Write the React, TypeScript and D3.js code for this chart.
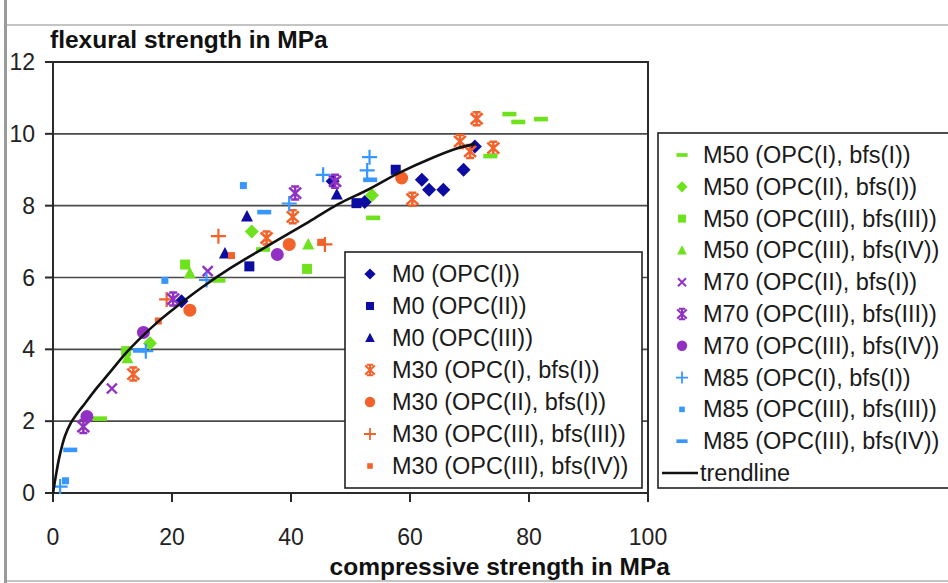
import React from 'react';
import * as d3 from 'd3';

// chart values: [compressive, flexural] in MPa
const M0_OPC1 = [[21.6, 5.34], [47.0, 8.68], [52.4, 8.1], [62.0, 8.72], [63.2, 8.44], [65.6, 8.44], [69.0, 9.0], [70.9, 9.65]];
const M0_OPC2 = [[33.0, 6.31], [51.0, 8.07], [57.6, 9.0]];
const M0_OPC3 = [[28.9, 6.67], [32.6, 7.7], [47.7, 8.31]];
const M30_1 = [[13.5, 3.31], [35.9, 7.1], [40.3, 7.69], [60.4, 8.18], [68.4, 9.79], [70.1, 9.51], [71.2, 10.42], [74.0, 9.6]];
const M30_2 = [[23.0, 5.09], [39.7, 6.92], [58.6, 8.77]];
const M30_3 = [[19.1, 5.39], [27.8, 7.15], [45.7, 6.92]];
const M30_4 = [[17.7, 4.79], [30.0, 6.61], [45.0, 6.98]];
const M50_1 = [[7.9, 2.07], [27.8, 5.92], [35.3, 6.78], [53.8, 7.66], [73.5, 9.38], [76.7, 10.55], [78.2, 10.33], [82.0, 10.41]];
const M50_2 = [[16.3, 4.17], [33.4, 7.28], [53.6, 8.29]];
const M50_3 = [[12.3, 3.95], [22.2, 6.36], [42.7, 6.24]];
const M50_4 = [[12.5, 3.75], [23.0, 6.12], [42.9, 6.92]];
const M70_1 = [[9.9, 2.91], [26.0, 6.18]];
const M70_2 = [[5.1, 1.85], [20.2, 5.4], [40.7, 8.35], [47.4, 8.68]];
const M70_3 = [[5.7, 2.13], [15.2, 4.47], [37.7, 6.64]];
const M85_1 = [[1.2, 0.18], [15.6, 3.95], [25.8, 5.93], [39.7, 8.06], [45.4, 8.86], [53.2, 9.35], [52.8, 8.98]];
const M85_2 = [[2.1, 0.34], [18.8, 5.92], [32.0, 8.56]];
const M85_3 = [[2.9, 1.2], [14.6, 3.97], [35.5, 7.82], [53.3, 8.72]];

const TREND = [[0, 0], [0.5, 0.5], [1, 0.95], [1.5, 1.3], [2, 1.58], [3, 1.95], [4, 2.2], [5.4, 2.5], [7, 2.85], [8.5, 3.15], [10, 3.45], [12.4, 3.92], [14.3, 4.25], [18, 4.82], [21, 5.22], [25, 5.72], [30, 6.28], [37, 6.97], [43, 7.55], [48, 8.05], [53, 8.45], [58, 8.9], [64, 9.35], [68, 9.6], [71, 9.72]];

const X_TICKS = [0, 20, 40, 60, 80, 100];
const Y_TICKS = [0, 2, 4, 6, 8, 10, 12];

const NAVY = '#0c0ca2';
const ORANGE = '#f2622a';
const GREEN = '#6ee21c';
const PURPLE = '#9130c2';
const BLUE = '#3797ff';

const SERIES_A = [
  { name: 'M0 (OPC(I))', shape: 'diamond', color: NAVY, data: M0_OPC1 },
  { name: 'M0 (OPC(II))', shape: 'square', color: NAVY, data: M0_OPC2 },
  { name: 'M0 (OPC(III))', shape: 'triangle', color: NAVY, data: M0_OPC3 },
  { name: 'M30 (OPC(I), bfs(I))', shape: 'star', color: ORANGE, data: M30_1 },
  { name: 'M30 (OPC(II), bfs(I))', shape: 'circle', color: ORANGE, data: M30_2 },
  { name: 'M30 (OPC(III), bfs(III))', shape: 'plus', color: ORANGE, data: M30_3 },
  { name: 'M30 (OPC(III), bfs(IV))', shape: 'smallsq', color: ORANGE, data: M30_4 },
];
const SERIES_B = [
  { name: 'M50 (OPC(I), bfs(I))', shape: 'dash', color: GREEN, data: M50_1 },
  { name: 'M50 (OPC(II), bfs(I))', shape: 'diamond', color: GREEN, data: M50_2 },
  { name: 'M50 (OPC(III), bfs(III))', shape: 'square', color: GREEN, data: M50_3 },
  { name: 'M50 (OPC(III), bfs(IV))', shape: 'triangle', color: GREEN, data: M50_4 },
  { name: 'M70 (OPC(II), bfs(I))', shape: 'x', color: PURPLE, data: M70_1 },
  { name: 'M70 (OPC(III), bfs(III))', shape: 'star', color: PURPLE, data: M70_2 },
  { name: 'M70 (OPC(III), bfs(IV))', shape: 'circle', color: PURPLE, data: M70_3 },
  { name: 'M85 (OPC(I), bfs(I))', shape: 'plus', color: BLUE, data: M85_1 },
  { name: 'M85 (OPC(III), bfs(III))', shape: 'smallsq', color: BLUE, data: M85_2 },
  { name: 'M85 (OPC(III), bfs(IV))', shape: 'dash', color: BLUE, data: M85_3 },
];

const FONT = '"Liberation Sans", Arial, sans-serif';

function Marker({ shape, color, cx, cy, k = 1 }: any) {
  const t = `translate(${cx},${cy}) scale(${k})`;
  switch (shape) {
    case 'diamond':
      return <path transform={t} d="M0,-7L7,0L0,7L-7,0Z" fill={color} />;
    case 'square':
      return <rect transform={t} x={-5} y={-5} width={10} height={10} fill={color} />;
    case 'smallsq':
      return <rect transform={t} x={-3.5} y={-3.5} width={7} height={7} fill={color} />;
    case 'triangle':
      return <path transform={t} d="M0,-6.5L6,5L-6,5Z" fill={color} />;
    case 'circle':
      return <circle transform={t} r={6.5} fill={color} />;
    case 'dash':
      return <rect transform={t} x={-7} y={-2.3} width={14} height={4.6} fill={color} />;
    case 'plus':
      return (
        <path transform={t} d="M-7.5,0H7.5M0,-7.5V7.5" stroke={color} strokeWidth={2.2} fill="none" />
      );
    case 'x':
      return (
        <path transform={t} d="M-5,-5L5,5M-5,5L5,-5" stroke={color} strokeWidth={2.4} fill="none" />
      );
    case 'star':
      return (
        <path
          transform={t}
          d="M-6,-5.5L6,5.5M-6,5.5L6,-5.5M0,-7V7M-4,-6.5H4M-4,6.5H4"
          stroke={color}
          strokeWidth={2.5}
          fill="none"
        />
      );
    default:
      return null;
  }
}

export default function App() {
  const x = d3.scaleLinear().domain([0, 100]).range([53, 648]);
  const y = d3.scaleLinear().domain([0, 12]).range([493, 62]);
  const trendPath = d3
    .line()
    .x((d: any) => x(d[0]))
    .y((d: any) => y(d[1]))
    .curve(d3.curveCatmullRom)(TREND as any);

  const all = [...SERIES_A, ...SERIES_B];

  return (
    <svg
      width={948}
      height={583}
      style={{ position: 'absolute', left: 0, top: 0, background: '#fff' }}
      fontFamily={FONT}
    >
      {/* page frame */}
      <rect x={4} y={0} width={3} height={583} fill="#9a9a9a" />
      <rect x={7} y={24} width={941} height={2} fill="#c4c4c4" />
      <rect x={7} y={580} width={941} height={2} fill="#c4c4c4" />

      {/* gridlines */}
      {Y_TICKS.filter((v) => v > 0 && v < 12).map((v) => (
        <line key={v} x1={x(0)} x2={x(100)} y1={y(v)} y2={y(v)} stroke="#4a4a4a" strokeWidth={1.6} />
      ))}
      {/* plot frame */}
      <rect x={x(0)} y={y(12)} width={x(100) - x(0)} height={y(0) - y(12)} fill="none" stroke="#2a2a2a" strokeWidth={2} />

      {/* y ticks */}
      {Y_TICKS.map((v) => (
        <g key={v}>
          <line x1={x(0) - 8} x2={x(0)} y1={y(v)} y2={y(v)} stroke="#2a2a2a" strokeWidth={2} />
          <text x={35} y={y(v) + 8} textAnchor="end" fontSize={23} fill="#222">
            {v}
          </text>
        </g>
      ))}
      {/* x ticks */}
      {X_TICKS.map((v) => (
        <g key={v}>
          <line x1={x(v)} x2={x(v)} y1={y(0)} y2={y(0) + 9} stroke="#2a2a2a" strokeWidth={2} />
          <text x={x(v)} y={545} textAnchor="middle" fontSize={23} fill="#222">
            {v}
          </text>
        </g>
      ))}

      <text x={50} y={48} fontSize={24.5} fontWeight="bold" fill="#111">
        flexural strength in MPa
      </text>
      <text x={670} y={575} textAnchor="end" fontSize={24.5} fontWeight="bold" fill="#111">
        compressive strength in MPa
      </text>

      {/* data */}
      {all.map((s) =>
        s.data.map((d, i) => (
          <Marker key={s.name + i} shape={s.shape} color={s.color} cx={x(d[0])} cy={y(d[1])} />
        ))
      )}
      <path d={trendPath || ''} fill="none" stroke="#111" strokeWidth={2.6} />

      {/* inner legend */}
      <rect x={345} y={252} width={297} height={236} fill="#fff" stroke="#222" strokeWidth={1.6} />
      {SERIES_A.map((s, i) => (
        <g key={s.name}>
          <Marker shape={s.shape} color={s.color} cx={370} cy={274 + i * 32} k={0.8} />
          <text x={392} y={274 + i * 32 + 8} fontSize={23.5} fill="#1a1a1a">
            {s.name}
          </text>
        </g>
      ))}

      {/* right legend */}
      <rect x={658} y={133} width={300} height={355} fill="#fff" stroke="#222" strokeWidth={1.6} />
      {SERIES_B.map((s, i) => (
        <g key={s.name}>
          <Marker shape={s.shape} color={s.color} cx={682} cy={155 + i * 31.8} k={0.8} />
          <text x={703} y={155 + i * 31.8 + 8} fontSize={23.5} fill="#1a1a1a">
            {s.name}
          </text>
        </g>
      ))}
      <line x1={662} x2={698} y1={473} y2={473} stroke="#111" strokeWidth={2.4} />
      <text x={700} y={481} fontSize={23.5} fill="#1a1a1a">
        trendline
      </text>
    </svg>
  );
}
